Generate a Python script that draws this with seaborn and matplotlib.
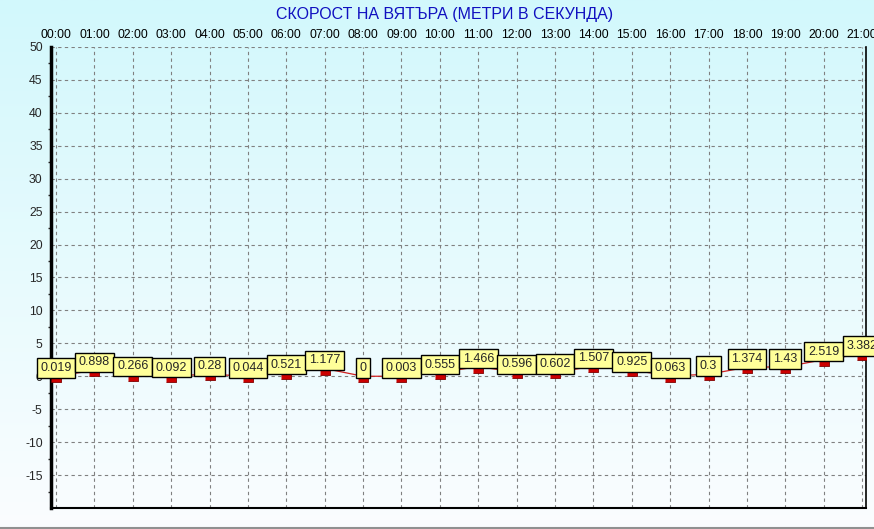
import numpy as np
import pandas as pd
import matplotlib
matplotlib.use("Agg")
import matplotlib.pyplot as plt
from matplotlib.colors import LinearSegmentedColormap
import seaborn as sns

# --- data ---
hours = ["00:00", "01:00", "02:00", "03:00", "04:00", "05:00", "06:00", "07:00",
         "08:00", "09:00", "10:00", "11:00", "12:00", "13:00", "14:00", "15:00",
         "16:00", "17:00", "18:00", "19:00", "20:00", "21:00"]
wind = [0.019, 0.898, 0.266, 0.092, 0.28, 0.044, 0.521, 1.177, 0, 0.003, 0.555,
        1.466, 0.596, 0.602, 1.507, 0.925, 0.063, 0.3, 1.374, 1.43, 2.519, 3.382]
labels = ["0.019", "0.898", "0.266", "0.092", "0.28", "0.044", "0.521", "1.177", "0",
          "0.003", "0.555", "1.466", "0.596", "0.602", "1.507", "0.925", "0.063", "0.3",
          "1.374", "1.43", "2.519", "3.382"]
y_ticks = list(range(-15, 55, 5))

df = pd.DataFrame({"pos": np.arange(len(hours)), "wind": wind})

sns.set_style("white")
plt.rcParams["font.family"] = ["Liberation Sans", "DejaVu Sans"]
plt.rcParams["axes.unicode_minus"] = False

fig = plt.figure(figsize=(8.74, 5.29), dpi=100)

# фон - градиент от светло синьо към бяло
bg = fig.add_axes([0, 0, 1, 1], zorder=-10)
grad_cmap = LinearSegmentedColormap.from_list("bg", ["#d2f8fc", "#fbfdff"])
bg.imshow(np.linspace(0, 1, 256).reshape(-1, 1), aspect="auto", cmap=grad_cmap,
          extent=[0, 1, 0, 1])
bg.axhline(0.002, color="#909090", lw=1.5)
bg.set_axis_off()

ax = fig.add_axes([0.0584, 0.0397, 0.9324, 0.8716])
ax.set_facecolor("none")

# линията
sns.lineplot(data=df, x="pos", y="wind", ax=ax, color="#d02020", lw=0.9,
             marker=[(-1, 0), (1, 0), (1, -1.1), (-1, -1.1)], markersize=8,
             markerfacecolor="#cc0000", markeredgecolor="#800000", markeredgewidth=0.6,
             zorder=3)

for x, y, t in zip(df["pos"], wind, labels):
    ax.annotate(t, (x, y), xytext=(0, 1.5), textcoords="offset points",
                ha="center", va="bottom", fontsize=9, zorder=5,
                bbox=dict(boxstyle="square,pad=0.3", fc="#ffff99", ec="black", lw=1))

ax.set_xlim(-0.13, 21.1)
ax.set_ylim(-20, 50)
ax.set_xticks(df["pos"])
ax.set_xticklabels(hours)
ax.xaxis.tick_top()
ax.set_yticks(y_ticks)
ax.set_yticks(np.arange(-17.5, 50, 5), minor=True)
ax.tick_params(axis="x", length=0, labelsize=8.8, pad=4, colors="black")
ax.tick_params(axis="y", which="major", length=4, width=1, labelsize=8.8, pad=2, direction="out")
ax.tick_params(axis="y", which="minor", length=2, width=1, left=True)
ax.set_xlabel("")
ax.set_ylabel("")

ax.grid(True, which="major", color="#808080", ls=(0, (3, 3)), lw=0.8)

ax.spines["left"].set_linewidth(2.5)
ax.spines["bottom"].set_linewidth(1.5)
ax.spines["right"].set_linewidth(1.2)
ax.spines["top"].set_visible(False)
for s in ["left", "bottom", "right"]:
    ax.spines[s].set_color("black")

fig.text(0.509, 0.972, "СКОРОСТ НА ВЯТЪРА (МЕТРИ В СЕКУНДА)", ha="center", va="center",
         fontsize=11.5, color="#1010c0")

fig.savefig("out.png", dpi=100)
